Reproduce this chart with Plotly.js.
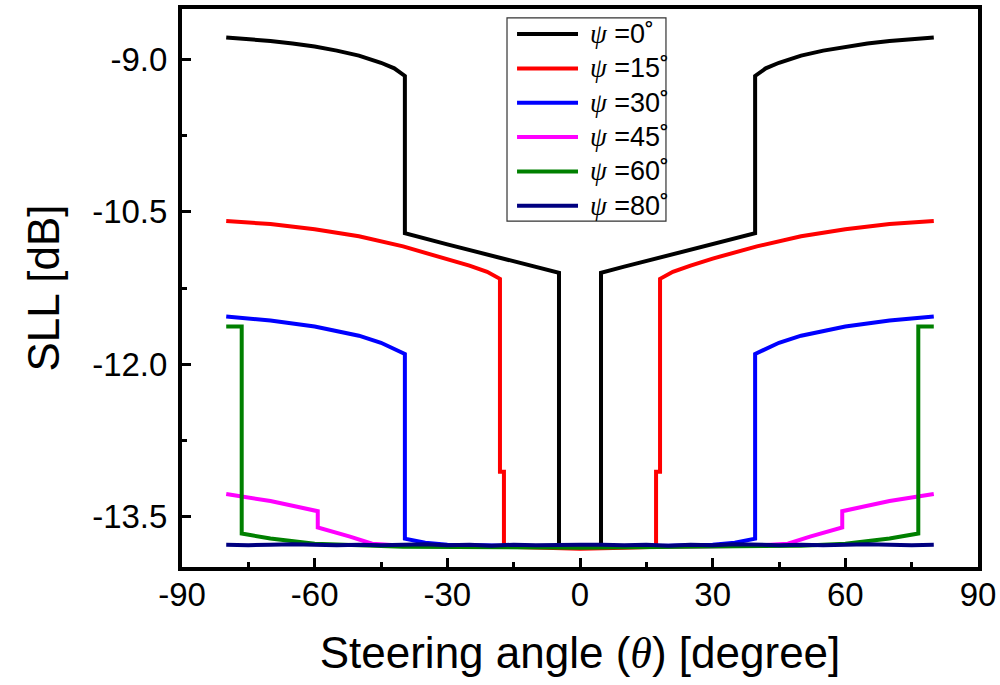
<!DOCTYPE html>
<html>
<head>
<meta charset="utf-8">
<script src="https://cdn.plot.ly/plotly-3.0.1.min.js"></script>
<style>html,body{margin:0;padding:0;background:#fff;}#chart{width:1000px;height:685px;}</style>
</head>
<body>
<div id="chart"></div>
<script>
// Series names
const seriesNames = ["0", "15", "30", "45", "60", "80"];
const seriesColors = ["#000000", "#ff0000", "#0000ff", "#ff00ff", "#008000", "#000080"];

// psi = 0
const x0 = [-80,-75,-70,-65,-60,-55,-50,-45,-42,-39.6,-39.6,-30,-20,-10,-4.75,-4.75,0,4.75,4.75,10,20,30,39.6,39.6,42,45,50,55,60,65,70,75,80];
const y0 = [-8.78,-8.795,-8.815,-8.84,-8.87,-8.91,-8.96,-9.03,-9.085,-9.16,-10.71,-10.82,-10.93,-11.04,-11.10,-13.79,-13.80,-13.79,-11.10,-11.04,-10.93,-10.82,-10.71,-9.16,-9.085,-9.03,-8.96,-8.91,-8.87,-8.84,-8.815,-8.795,-8.78];

// psi = 15
const x15 = [-80,-70,-60,-50,-40,-30,-25,-21,-18.1,-18.1,-17.2,-17.2,-10,0,10,17.2,17.2,18.1,18.1,21,25,30,40,50,60,70,80];
const y15 = [-10.59,-10.62,-10.67,-10.74,-10.84,-10.96,-11.03,-11.09,-11.16,-13.06,-13.06,-13.80,-13.81,-13.82,-13.81,-13.80,-13.06,-13.06,-11.16,-11.09,-11.03,-10.96,-10.84,-10.74,-10.67,-10.62,-10.59];

// psi = 30
const x30 = [-80,-70,-60,-50,-45,-39.6,-39.6,-35,-30,-20,0,20,30,35,39.6,39.6,45,50,60,70,80];
const y30 = [-11.53,-11.57,-11.63,-11.72,-11.79,-11.90,-13.72,-13.76,-13.78,-13.79,-13.80,-13.79,-13.78,-13.76,-13.72,-11.90,-11.79,-11.72,-11.63,-11.57,-11.53];

// psi = 45
const x45 = [-80,-70,-59.3,-59.3,-52,-47,-40,-20,0,20,40,47,52,59.3,59.3,70,80];
const y45 = [-13.28,-13.35,-13.45,-13.61,-13.70,-13.77,-13.79,-13.80,-13.80,-13.80,-13.79,-13.77,-13.70,-13.61,-13.45,-13.35,-13.28];

// psi = 60
const x60 = [-80,-76.5,-76.5,-70,-60,-50,-40,0,40,50,60,70,76.5,76.5,80];
const y60 = [-11.63,-11.63,-13.67,-13.72,-13.77,-13.79,-13.80,-13.81,-13.80,-13.79,-13.77,-13.72,-13.67,-11.63,-11.63];

// psi = 80
const x80 = [-80,-75,-70,-65,-60,-55,-50,-45,-40,-35,-30,-25,-20,-15,-10,-5,0,5,10,15,20,25,30,35,40,45,50,55,60,65,70,75,80];
const y80 = [-13.78,-13.785,-13.78,-13.775,-13.78,-13.785,-13.78,-13.785,-13.78,-13.775,-13.785,-13.78,-13.79,-13.78,-13.785,-13.78,-13.78,-13.78,-13.785,-13.78,-13.79,-13.78,-13.785,-13.775,-13.78,-13.785,-13.78,-13.785,-13.78,-13.775,-13.78,-13.785,-13.78];

const xs = [x0, x15, x30, x45, x60, x80];
const ys = [y0, y15, y30, y45, y60, y80];

// Axis ticks
const xTickVals = [-90, -60, -30, 0, 30, 60, 90];
const xTickText = ["-90", "-60", "-30", "0", "30", "60", "90"];
const yTickVals = [-13.5, -12.0, -10.5, -9.0];
const yTickText = ["-13.5", "-12.0", "-10.5", "-9.0"];

const font = "Liberation Sans, Arial, sans-serif";
const legendLabel = n => '<span style="font-family:\'Liberation Serif\'"><i>ψ</i></span> =' + n + '˚';

const traces = seriesNames.map((n, i) => ({
  type: "scatter",
  mode: "lines",
  x: xs[i],
  y: ys[i],
  name: legendLabel(n),
  showlegend: false,
  line: {color: seriesColors[i], width: 4}
}));

// Legend box drawn in paper coordinates (plot area: 182..978 px, 9..567 px)
const lgBox = {x0: 0.4083, x1: 0.608, y0: 0.620, y1: 0.984};
const lgLineX = [0.4209, 0.4975];
const lgTextX = 0.5095;
const lgTop = 0.955, lgStep = 0.0615;

const shapes = [{
  type: "rect", xref: "paper", yref: "paper",
  x0: lgBox.x0, x1: lgBox.x1, y0: lgBox.y0, y1: lgBox.y1,
  line: {color: "#333", width: 1.2}, fillcolor: "#fff", layer: "above"
}];
const annotations = [];
seriesNames.forEach((n, i) => {
  const yy = lgTop - i * lgStep;
  shapes.push({
    type: "line", xref: "paper", yref: "paper",
    x0: lgLineX[0], x1: lgLineX[1], y0: yy, y1: yy,
    line: {color: seriesColors[i], width: 4}, layer: "above"
  });
  annotations.push({
    xref: "paper", yref: "paper", x: lgTextX, y: yy,
    xanchor: "left", yanchor: "middle", showarrow: false,
    text: legendLabel(n), font: {family: font, size: 27, color: "#000"}
  });
});

const layout = {
  width: 1000, height: 685,
  paper_bgcolor: "#fff", plot_bgcolor: "#fff",
  margin: {l: 182, r: 22, t: 9, b: 118},
  font: {family: font, color: "#000"},
  showlegend: false,
  shapes: shapes,
  annotations: annotations,
  xaxis: {
    range: [-90, 90], tickmode: "array", tickvals: xTickVals, ticktext: xTickText,
    ticks: "inside", ticklen: 9, tickwidth: 3, tickcolor: "#000",
    minor: {dtick: 15, ticks: "inside", ticklen: 5, tickwidth: 3, tickcolor: "#000"},
    showline: true, linewidth: 4, linecolor: "#000", mirror: true,
    showgrid: false, zeroline: false,
    tickfont: {family: font, size: 33},
    ticklabelstandoff: -5,
    title: {text: 'Steering angle (<span style="font-family:\'Liberation Serif\'"><i>θ</i></span>) [degree]', font: {family: font, size: 44}, standoff: 27}
  },
  yaxis: {
    range: [-14.0, -8.5], tickmode: "array", tickvals: yTickVals, ticktext: yTickText,
    ticks: "inside", ticklen: 9, tickwidth: 3, tickcolor: "#000",
    minor: {dtick: 0.75, ticks: "inside", ticklen: 5, tickwidth: 3, tickcolor: "#000"},
    showline: true, linewidth: 4, linecolor: "#000", mirror: true,
    showgrid: false, zeroline: false,
    tickfont: {family: font, size: 33},
    ticklabelstandoff: 4,
    title: {text: "SLL [dB]", font: {family: font, size: 44}, standoff: 20}
  }
};

Plotly.newPlot("chart", traces, layout, {displayModeBar: false, staticPlot: true});
</script>
</body>
</html>
